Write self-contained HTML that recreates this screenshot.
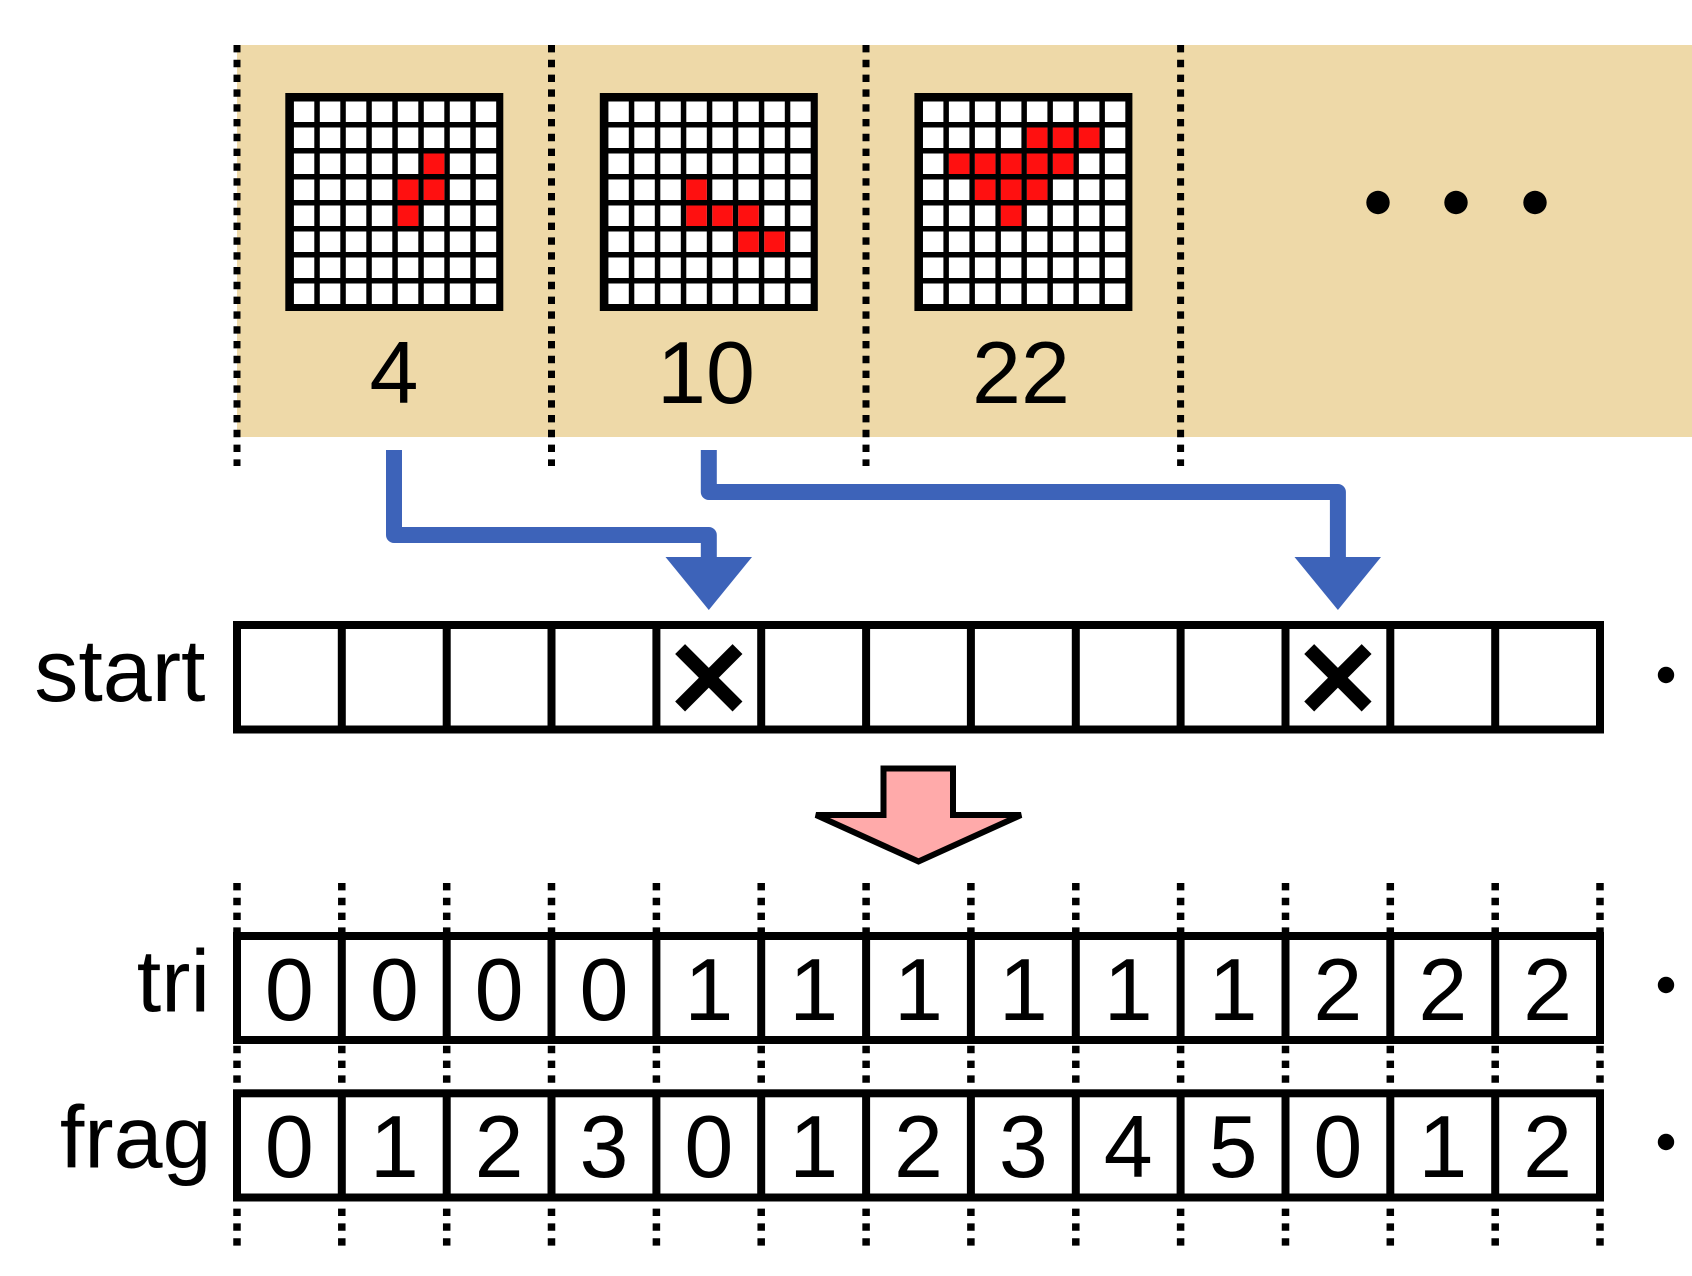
<!DOCTYPE html>
<html>
<head>
<meta charset="utf-8">
<style>
  html, body { margin: 0; padding: 0; background: #ffffff; }
  svg { display: block; }
  text { font-family: "Liberation Sans", Arial, sans-serif; fill: #000; }
</style>
</head>
<body>
<svg width="1692" height="1276" viewBox="0 0 1692 1276" xmlns="http://www.w3.org/2000/svg">
  <defs>
    <pattern id="cells" patternUnits="userSpaceOnUse" x="8.5" y="8.5" width="26" height="26">
      <rect x="0" y="0" width="20.5" height="20.5" fill="#ffffff"/>
    </pattern>
  </defs>

  <!-- beige band -->
  <rect x="237" y="45" width="1455" height="392" fill="#eed9a8"/>

  <!-- top dotted separators -->
  <g stroke="#000" stroke-width="7" stroke-dasharray="7.4 7.4">
    <line x1="237" y1="45" x2="237" y2="466"/>
    <line x1="551.5" y1="45" x2="551.5" y2="466"/>
    <line x1="866" y1="45" x2="866" y2="466"/>
    <line x1="1180.6" y1="45" x2="1180.6" y2="466"/>
  </g>

  <!-- grid 1 -->
  <g transform="translate(285.3,93)">
    <rect x="0" y="0" width="218" height="218" fill="#000"/>
    <rect x="8.5" y="8.5" width="202.5" height="202.5" fill="url(#cells)"/>
    <g fill="#ff1010">
      <rect x="138.5" y="60.5" width="20.5" height="20.5"/>
      <rect x="112.5" y="86.5" width="20.5" height="20.5"/>
      <rect x="138.5" y="86.5" width="20.5" height="20.5"/>
      <rect x="112.5" y="112.5" width="20.5" height="20.5"/>
    </g>
  </g>
  <!-- grid 2 -->
  <g transform="translate(599.8,93)">
    <rect x="0" y="0" width="218" height="218" fill="#000"/>
    <rect x="8.5" y="8.5" width="202.5" height="202.5" fill="url(#cells)"/>
    <g fill="#ff1010">
      <rect x="86.5" y="86.5" width="20.5" height="20.5"/>
      <rect x="86.5" y="112.5" width="20.5" height="20.5"/>
      <rect x="112.5" y="112.5" width="20.5" height="20.5"/>
      <rect x="138.5" y="112.5" width="20.5" height="20.5"/>
      <rect x="138.5" y="138.5" width="20.5" height="20.5"/>
      <rect x="164.5" y="138.5" width="20.5" height="20.5"/>
    </g>
  </g>
  <!-- grid 3 -->
  <g transform="translate(914.4,93)">
    <rect x="0" y="0" width="218" height="218" fill="#000"/>
    <rect x="8.5" y="8.5" width="202.5" height="202.5" fill="url(#cells)"/>
    <g fill="#ff1010">
      <rect x="112.5" y="34.5" width="20.5" height="20.5"/>
      <rect x="138.5" y="34.5" width="20.5" height="20.5"/>
      <rect x="164.5" y="34.5" width="20.5" height="20.5"/>
      <rect x="34.5" y="60.5" width="20.5" height="20.5"/>
      <rect x="60.5" y="60.5" width="20.5" height="20.5"/>
      <rect x="86.5" y="60.5" width="20.5" height="20.5"/>
      <rect x="112.5" y="60.5" width="20.5" height="20.5"/>
      <rect x="138.5" y="60.5" width="20.5" height="20.5"/>
      <rect x="60.5" y="86.5" width="20.5" height="20.5"/>
      <rect x="86.5" y="86.5" width="20.5" height="20.5"/>
      <rect x="112.5" y="86.5" width="20.5" height="20.5"/>
      <rect x="86.5" y="112.5" width="20.5" height="20.5"/>
    </g>
  </g>

  <!-- grid labels -->
  <g font-size="88" text-anchor="middle">
    <text x="394" y="403">4</text>
    <text x="706" y="403">10</text>
    <text x="1021" y="403">22</text>
  </g>

  <!-- ellipsis dots -->
  <g fill="#000">
    <circle cx="1378" cy="202.5" r="11.7"/>
    <circle cx="1456" cy="202.5" r="11.7"/>
    <circle cx="1535" cy="202.5" r="11.7"/>
  </g>

  <!-- blue connectors -->
  <g fill="none" stroke="#3d63b9" stroke-width="16" stroke-linejoin="round">
    <path d="M394,450 V535 H708.8 V562"/>
    <path d="M708.8,450 V492 H1337.9 V562"/>
  </g>
  <g fill="#3d63b9">
    <polygon points="665.5,557 752,557 708.8,610"/>
    <polygon points="1294.5,557 1381,557 1337.9,610"/>
  </g>

  <!-- start row -->
  <rect x="237" y="625" width="1363" height="104.5" fill="#fff" stroke="#000" stroke-width="8"/>
  <g stroke="#000" stroke-width="8">
    <line x1="341.8" y1="625" x2="341.8" y2="729.5"/>
    <line x1="446.7" y1="625" x2="446.7" y2="729.5"/>
    <line x1="551.5" y1="625" x2="551.5" y2="729.5"/>
    <line x1="656.4" y1="625" x2="656.4" y2="729.5"/>
    <line x1="761.2" y1="625" x2="761.2" y2="729.5"/>
    <line x1="866.1" y1="625" x2="866.1" y2="729.5"/>
    <line x1="970.9" y1="625" x2="970.9" y2="729.5"/>
    <line x1="1075.8" y1="625" x2="1075.8" y2="729.5"/>
    <line x1="1180.6" y1="625" x2="1180.6" y2="729.5"/>
    <line x1="1285.5" y1="625" x2="1285.5" y2="729.5"/>
    <line x1="1390.3" y1="625" x2="1390.3" y2="729.5"/>
    <line x1="1495.2" y1="625" x2="1495.2" y2="729.5"/>
  </g>
  <!-- X marks -->
  <g stroke="#000" stroke-width="14" stroke-linecap="butt">
    <line x1="680.1" y1="649.1" x2="737.5" y2="706.5"/>
    <line x1="737.5" y1="649.1" x2="680.1" y2="706.5"/>
    <line x1="1309.2" y1="649.1" x2="1366.6" y2="706.5"/>
    <line x1="1366.6" y1="649.1" x2="1309.2" y2="706.5"/>
  </g>

  <!-- pink arrow -->
  <polygon points="816,815 883.5,815 883.5,768.5 953,768.5 953,815 1021,815 918.5,861.5" fill="#ffaaaa" stroke="#000" stroke-width="6" stroke-linejoin="miter"/>

  <!-- lower dotted lines -->
  <g stroke="#000" stroke-width="7.5" stroke-dasharray="7.4 7.4">
    <line x1="237" y1="883" x2="237" y2="1246"/>
    <line x1="341.8" y1="883" x2="341.8" y2="1246"/>
    <line x1="446.7" y1="883" x2="446.7" y2="1246"/>
    <line x1="551.5" y1="883" x2="551.5" y2="1246"/>
    <line x1="656.4" y1="883" x2="656.4" y2="1246"/>
    <line x1="761.2" y1="883" x2="761.2" y2="1246"/>
    <line x1="866.1" y1="883" x2="866.1" y2="1246"/>
    <line x1="970.9" y1="883" x2="970.9" y2="1246"/>
    <line x1="1075.8" y1="883" x2="1075.8" y2="1246"/>
    <line x1="1180.6" y1="883" x2="1180.6" y2="1246"/>
    <line x1="1285.5" y1="883" x2="1285.5" y2="1246"/>
    <line x1="1390.3" y1="883" x2="1390.3" y2="1246"/>
    <line x1="1495.2" y1="883" x2="1495.2" y2="1246"/>
    <line x1="1600" y1="883" x2="1600" y2="1246"/>
  </g>

  <!-- tri row -->
  <rect x="237" y="936" width="1363" height="104" fill="#fff" stroke="#000" stroke-width="8"/>
  <!-- frag row -->
  <rect x="237" y="1093.3" width="1363" height="104.2" fill="#fff" stroke="#000" stroke-width="8"/>
  <g stroke="#000" stroke-width="8">
    <line x1="341.8" y1="936" x2="341.8" y2="1040"/>
    <line x1="446.7" y1="936" x2="446.7" y2="1040"/>
    <line x1="551.5" y1="936" x2="551.5" y2="1040"/>
    <line x1="656.4" y1="936" x2="656.4" y2="1040"/>
    <line x1="761.2" y1="936" x2="761.2" y2="1040"/>
    <line x1="866.1" y1="936" x2="866.1" y2="1040"/>
    <line x1="970.9" y1="936" x2="970.9" y2="1040"/>
    <line x1="1075.8" y1="936" x2="1075.8" y2="1040"/>
    <line x1="1180.6" y1="936" x2="1180.6" y2="1040"/>
    <line x1="1285.5" y1="936" x2="1285.5" y2="1040"/>
    <line x1="1390.3" y1="936" x2="1390.3" y2="1040"/>
    <line x1="1495.2" y1="936" x2="1495.2" y2="1040"/>

    <line x1="341.8" y1="1093.3" x2="341.8" y2="1197.5"/>
    <line x1="446.7" y1="1093.3" x2="446.7" y2="1197.5"/>
    <line x1="551.5" y1="1093.3" x2="551.5" y2="1197.5"/>
    <line x1="656.4" y1="1093.3" x2="656.4" y2="1197.5"/>
    <line x1="761.2" y1="1093.3" x2="761.2" y2="1197.5"/>
    <line x1="866.1" y1="1093.3" x2="866.1" y2="1197.5"/>
    <line x1="970.9" y1="1093.3" x2="970.9" y2="1197.5"/>
    <line x1="1075.8" y1="1093.3" x2="1075.8" y2="1197.5"/>
    <line x1="1180.6" y1="1093.3" x2="1180.6" y2="1197.5"/>
    <line x1="1285.5" y1="1093.3" x2="1285.5" y2="1197.5"/>
    <line x1="1390.3" y1="1093.3" x2="1390.3" y2="1197.5"/>
    <line x1="1495.2" y1="1093.3" x2="1495.2" y2="1197.5"/>
  </g>

  <!-- tri digits -->
  <g font-size="88" text-anchor="middle">
    <text x="289.4" y="1020">0</text>
    <text x="394.3" y="1020">0</text>
    <text x="499.1" y="1020">0</text>
    <text x="604.0" y="1020">0</text>
    <text x="708.8" y="1020">1</text>
    <text x="813.7" y="1020">1</text>
    <text x="918.5" y="1020">1</text>
    <text x="1023.4" y="1020">1</text>
    <text x="1128.2" y="1020">1</text>
    <text x="1233.1" y="1020">1</text>
    <text x="1337.9" y="1020">2</text>
    <text x="1442.8" y="1020">2</text>
    <text x="1547.6" y="1020">2</text>
  </g>
  <!-- frag digits -->
  <g font-size="88" text-anchor="middle">
    <text x="289.4" y="1177">0</text>
    <text x="394.3" y="1177">1</text>
    <text x="499.1" y="1177">2</text>
    <text x="604.0" y="1177">3</text>
    <text x="708.8" y="1177">0</text>
    <text x="813.7" y="1177">1</text>
    <text x="918.5" y="1177">2</text>
    <text x="1023.4" y="1177">3</text>
    <text x="1128.2" y="1177">4</text>
    <text x="1233.1" y="1177">5</text>
    <text x="1337.9" y="1177">0</text>
    <text x="1442.8" y="1177">1</text>
    <text x="1547.6" y="1177">2</text>
  </g>

  <!-- row labels -->
  <g font-size="88" text-anchor="end">
    <text x="205.5" y="701">start</text>
    <text x="210" y="1011.5">tri</text>
    <text x="211.5" y="1167.5">frag</text>
  </g>

  <!-- trailing dots -->
  <g fill="#000">
    <circle cx="1666" cy="675" r="8.2"/>
    <circle cx="1666" cy="985" r="8.2"/>
    <circle cx="1666" cy="1142" r="8.2"/>
  </g>
</svg>
</body>
</html>
